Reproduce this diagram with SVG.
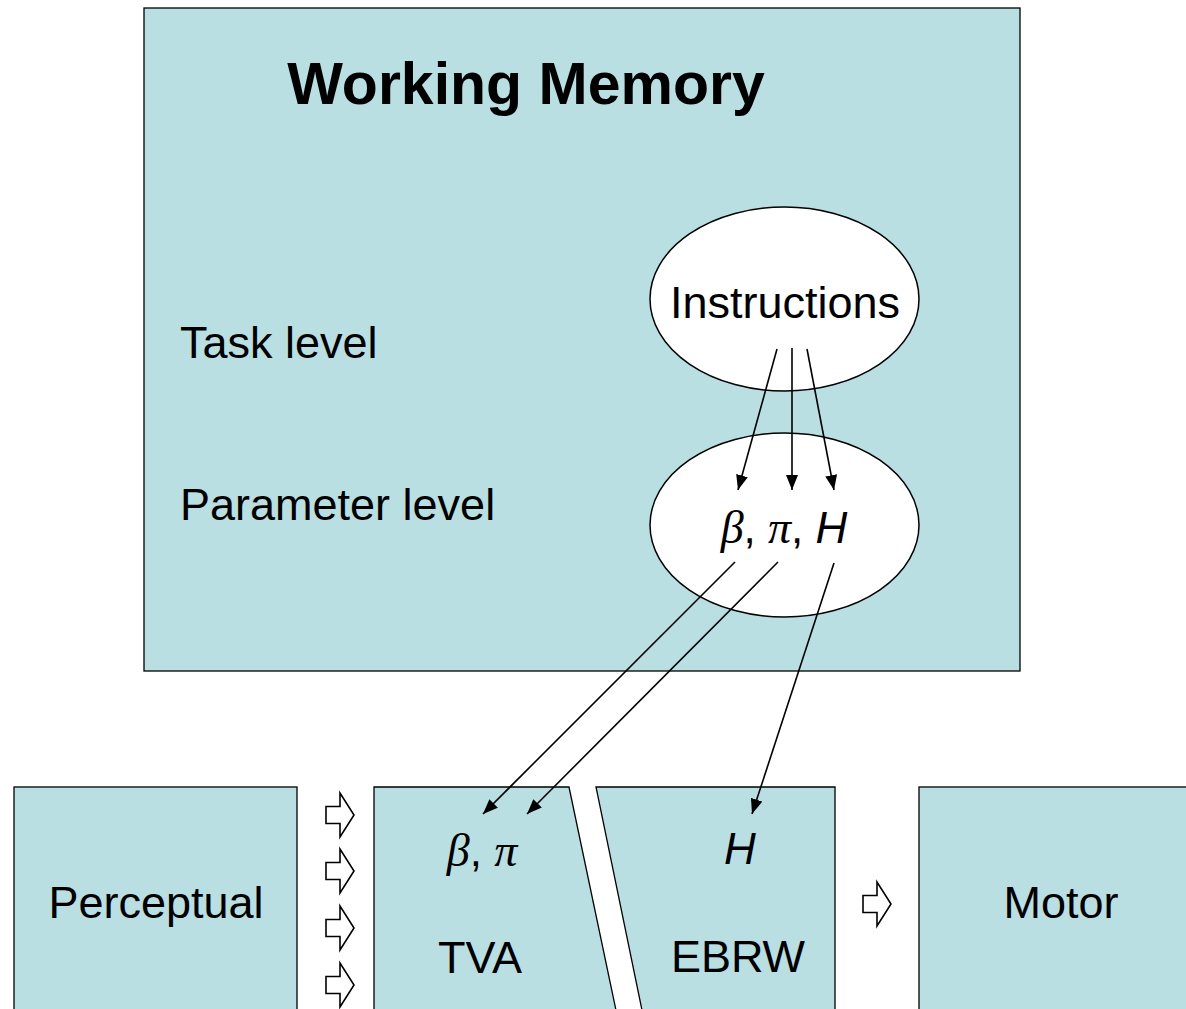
<svg xmlns="http://www.w3.org/2000/svg" width="1186" height="1009" viewBox="0 0 1186 1009">
<defs>
<style>
.box{fill:#B9DFE3;stroke:#000;stroke-width:1.3}
.ell{fill:#fff;stroke:#000;stroke-width:1.5}
.t{font-family:"Liberation Sans",Arial,sans-serif;font-size:45px;fill:#000}
.g{font-family:"Liberation Serif","Times New Roman",serif;font-style:italic;font-size:46px;fill:#000}
.cm{font-family:"Liberation Sans",Arial,sans-serif;font-size:44px;fill:#000}
.hi{font-family:"Liberation Sans",Arial,sans-serif;font-style:italic;font-size:44px;fill:#000}
.c{stroke:#000;stroke-width:1.6;fill:none;marker-end:url(#ah)}
.ha{fill:#fff;stroke:#000;stroke-width:1.6;stroke-linejoin:miter}
</style>
<marker id="ah" viewBox="0 0 15 12" refX="15" refY="6" markerWidth="15" markerHeight="12" markerUnits="userSpaceOnUse" orient="auto">
<path d="M0,0 L15,6 L0,12 Z" fill="#000"/>
</marker>
<path id="hollow" d="M0,-8.5 H14 V-22 L28,0 L14,22 V8.5 H0 Z"/>
</defs>
<rect width="1186" height="1009" fill="#fff"/>
<g id="working-memory">
<rect class="box" x="144" y="8" width="876" height="663"/>
<text x="526" y="104" text-anchor="middle" style="font-family:'Liberation Sans',Arial,sans-serif;font-weight:bold;font-size:59px">Working Memory</text>
<text class="t" x="180" y="358">Task level</text>
<text class="t" x="180" y="520">Parameter level</text>
</g>
<g id="instructions">
<ellipse class="ell" cx="784.5" cy="299" rx="134.5" ry="92"/>
<text class="t" x="785" y="318" text-anchor="middle">Instructions</text>
</g>
<g id="parameters">
<ellipse class="ell" cx="784.5" cy="525" rx="134.5" ry="92"/>
<text x="784" y="543" text-anchor="middle"><tspan class="g">β</tspan><tspan class="cm">, </tspan><tspan class="g">π</tspan><tspan class="cm">, </tspan><tspan class="hi">H</tspan></text>
</g>
<g id="perceptual">
<rect class="box" x="14" y="787" width="283" height="240"/>
<text class="t" x="156" y="918" text-anchor="middle">Perceptual</text>
</g>
<g id="tva">
<polygon class="box" points="374,787 569,787 617,1015 374,1015"/>
<text x="482" y="866" text-anchor="middle"><tspan class="g">β</tspan><tspan class="cm">, </tspan><tspan class="g">π</tspan></text>
<text class="t" x="480" y="973" text-anchor="middle">TVA</text>
</g>
<g id="ebrw">
<polygon class="box" points="596,787 835,787 835,1015 643,1015"/>
<text class="hi" x="740" y="864" text-anchor="middle">H</text>
<text class="t" x="738" y="972" text-anchor="middle">EBRW</text>
</g>
<g id="motor">
<rect class="box" x="919" y="787" width="280" height="240"/>
<text class="t" x="1061" y="918" text-anchor="middle">Motor</text>
</g>
<g id="connectors">
<line class="c" x1="777" y1="349" x2="738" y2="490"/>
<line class="c" x1="792" y1="348" x2="792" y2="490"/>
<line class="c" x1="807" y1="349" x2="834" y2="490"/>
<line class="c" x1="735" y1="562" x2="483" y2="814"/>
<line class="c" x1="778" y1="562" x2="527" y2="814"/>
<line class="c" x1="834" y1="563" x2="752" y2="814"/>
<use href="#hollow" class="ha" x="326" y="815"/>
<use href="#hollow" class="ha" x="326" y="871"/>
<use href="#hollow" class="ha" x="326" y="928"/>
<use href="#hollow" class="ha" x="326" y="985"/>
<use href="#hollow" class="ha" x="863" y="904"/>
</g>
</svg>
